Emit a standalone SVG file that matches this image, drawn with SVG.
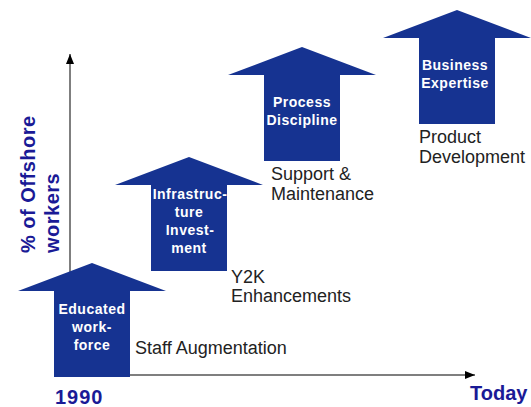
<svg xmlns="http://www.w3.org/2000/svg" width="531" height="407" viewBox="0 0 531 407">
<style>
.arrow{fill:#163391}
.in{font-family:"Liberation Sans",Arial,sans-serif;font-weight:bold;font-size:14px;fill:#ffffff;text-anchor:middle;letter-spacing:0.5px}
.lab{font-family:"Liberation Sans",Arial,sans-serif;font-size:18px;fill:#222222}
.ax{font-family:"Liberation Sans",Arial,sans-serif;font-weight:bold;font-size:20px;fill:#1a1a96}
.axis{stroke:#555555;stroke-width:1.5;fill:none}
</style>
<defs>
<marker id="ah" markerWidth="10" markerHeight="8" refX="10" refY="4" orient="auto" markerUnits="userSpaceOnUse">
<path d="M0,0 L10,4 L0,8 Z" fill="#000000"/>
</marker>
<path id="up" d="M0,0 L74,28 L38,28 L38,114 L-38,114 L-38,28 L-74,28 Z"/>
</defs>
<rect width="531" height="407" fill="#ffffff"/>
<g id="connectors">
<line class="axis" x1="70" y1="375" x2="70" y2="54" marker-end="url(#ah)"/>
<line class="axis" x1="70" y1="375" x2="475" y2="375" marker-end="url(#ah)"/>
</g>
<g id="axis-labels">
<text class="ax" transform="translate(35,253) rotate(-90)" letter-spacing="0.5">% of Offshore</text>
<text class="ax" transform="translate(59,253) rotate(-90)" letter-spacing="0.5">workers</text>
<text class="ax" x="55" y="404" letter-spacing="1">1990</text>
<text class="ax" x="470" y="400">Today</text>
</g>
<g id="educated-workforce">
<use href="#up" class="arrow" transform="translate(92,263)"/>
<text class="in" x="92" y="314">Educated</text>
<text class="in" x="92" y="332">work-</text>
<text class="in" x="92" y="350">force</text>
<text class="lab" x="135" y="354">Staff Augmentation</text>
</g>
<g id="infrastructure-investment">
<use href="#up" class="arrow" transform="translate(189,157)"/>
<text class="in" x="190" y="199">Infrastruc-</text>
<text class="in" x="189" y="217">ture</text>
<text class="in" x="190" y="235">Invest-</text>
<text class="in" x="189" y="253">ment</text>
<text class="lab" x="231" y="283">Y2K</text>
<text class="lab" x="231" y="302">Enhancements</text>
</g>
<g id="process-discipline">
<use href="#up" class="arrow" transform="translate(302,47)"/>
<text class="in" x="302" y="107">Process</text>
<text class="in" x="302" y="125">Discipline</text>
<text class="lab" x="271" y="180">Support &amp;</text>
<text class="lab" x="271" y="200">Maintenance</text>
</g>
<g id="business-expertise">
<use href="#up" class="arrow" transform="translate(457,10)"/>
<text class="in" x="455" y="70">Business</text>
<text class="in" x="455" y="88">Expertise</text>
<text class="lab" x="419" y="143">Product</text>
<text class="lab" x="419" y="163">Development</text>
</g>
</svg>
